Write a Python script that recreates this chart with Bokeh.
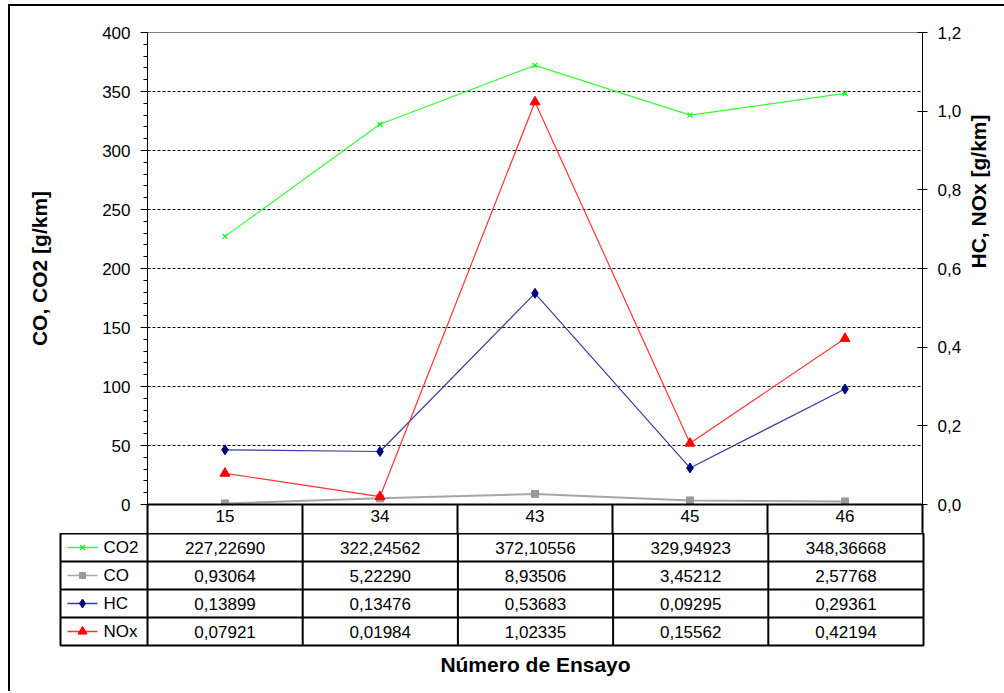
import math
from bokeh.plotting import figure
from bokeh.models import (Range1d, LinearAxis, FixedTicker, CustomJSTickFormatter,
                          ColumnDataSource, Grid)
from bokeh.layouts import column
from bokeh.embed import file_html
from bokeh.resources import INLINE
from bokeh.core.properties import value

# ---------------- data ----------------
categories = ["15", "34", "43", "45", "46"]
co2 = [227.22690, 322.24562, 372.10556, 329.94923, 348.36668]
co = [0.93064, 5.22290, 8.93506, 3.45212, 2.57768]
hc = [0.13899, 0.13476, 0.53683, 0.09295, 0.29361]
nox = [0.07921, 0.01984, 1.02335, 0.15562, 0.42194]
series_names = ["CO2", "CO", "HC", "NOx"]
left_ticks = [0, 50, 100, 150, 200, 250, 300, 350, 400]
left_minor_ticks = list(range(0, 401, 10))
grid_ticks = [50, 100, 150, 200, 250, 300, 350]
right_ticks = [0, 0.2, 0.4, 0.6, 0.8, 1.0, 1.2]
left_title = "CO, CO2 [g/km]"
right_title = "HC, NOx [g/km]"
x_title = "Número de Ensayo"

FONT = "Liberation Sans"
n = len(categories)
xs = [i + 0.5 for i in range(n)]

colors = {"CO2": "#00FF00", "CO": "#999999", "HC": "#000080", "NOx": "#FF0000"}
line_colors = {"CO2": "#33FF33", "CO": "#A6A6A6", "HC": "#3B3B9E", "NOx": "#FF3333"}
markers = {"CO2": "x", "CO": "square", "HC": "diamond", "NOx": "triangle"}
msize = {"CO2": 7, "CO": 7, "HC": 10, "NOx": 10}
lwidth = {"CO2": 1.2, "CO": 2, "HC": 1.2, "NOx": 1.2}
values = {"CO2": co2, "CO": co, "HC": hc, "NOx": nox}
axis_of = {"CO2": "default", "CO": "default", "HC": "right", "NOx": "right"}

# ---------------- main chart ----------------
pA = figure(width=994, height=527, x_range=Range1d(0, n), y_range=Range1d(0, 400),
            output_backend="svg", toolbar_location=None,
            x_axis_location=None, y_axis_location=None,
            min_border_left=137, min_border_right=81, min_border_top=26, min_border_bottom=29,
            outline_line_color="#808080", outline_line_width=1,
            background_fill_color="white", border_fill_color="white")
pA.frame_align = False
pA.extra_y_ranges = {"right": Range1d(0, 1.2)}
for g in pA.grid:
    g.visible = False

pA.add_layout(Grid(dimension=1, ticker=FixedTicker(ticks=grid_ticks),
                   grid_line_color="black", grid_line_dash="3 2", grid_line_width=1), "center")

ax_l = LinearAxis(ticker=FixedTicker(ticks=left_ticks, minor_ticks=left_minor_ticks),
                  formatter=CustomJSTickFormatter(code="return tick.toFixed(0);"),
                  axis_label=left_title)
ax_r = LinearAxis(y_range_name="right",
                  ticker=FixedTicker(ticks=right_ticks, minor_ticks=[]),
                  formatter=CustomJSTickFormatter(code="return tick.toFixed(1).replace('.', ',');"),
                  axis_label=right_title)
for ax in (ax_l, ax_r):
    ax.axis_line_color = "black"
    ax.axis_line_width = 1
    ax.major_tick_line_color = "black"
    ax.minor_tick_line_color = "black"
    ax.major_label_text_font = FONT
    ax.major_label_text_font_size = "17px"
    ax.major_label_text_color = "black"
    ax.major_label_standoff = 10
    ax.axis_label_text_font = FONT
    ax.axis_label_text_font_size = "21px"
    ax.axis_label_text_font_style = "bold"
    ax.axis_label_text_color = "black"
ax_l.major_tick_out = 7
ax_l.major_tick_in = 0
ax_l.minor_tick_out = 4
ax_l.minor_tick_in = 0
ax_l.axis_label_standoff = 48
ax_r.major_tick_out = 5
ax_r.major_tick_in = 5
ax_r.minor_tick_out = 0
ax_r.minor_tick_in = 0
ax_r.axis_label_standoff = 14
ax_r.axis_label_orientation = math.pi / 2
pA.add_layout(ax_l, "left")
pA.add_layout(ax_r, "right")

ax_b = LinearAxis(ticker=FixedTicker(ticks=xs, minor_ticks=list(range(n + 1))),
                  formatter=CustomJSTickFormatter(args=dict(cats=categories),
                                                  code="return cats[Math.floor(tick)];"),
                  axis_line_color="black", axis_line_width=2,
                  major_tick_out=0, major_tick_in=0,
                  minor_tick_out=29, minor_tick_in=0,
                  minor_tick_line_color="black", minor_tick_line_width=2,
                  major_label_text_font=FONT, major_label_text_font_size="17px",
                  major_label_text_color="black", major_label_standoff=-24)
pA.add_layout(ax_b, "below")

for name in series_names:
    yr = axis_of[name]
    pA.line(xs, values[name], line_color=line_colors[name], line_width=lwidth[name],
            y_range_name=yr)
    if markers[name] == "x":
        pA.scatter(xs, values[name], marker="x", size=msize[name], line_color=colors[name],
                   line_width=1.2, y_range_name=yr)
    else:
        pA.scatter(xs, values[name], marker=markers[name], size=msize[name],
                   fill_color=colors[name], line_color=colors[name], y_range_name=yr)

# ---------------- data table ----------------
leg_w = 87 / 155.2  # legend column width in category units
nrows = len(series_names)
pB = figure(width=994, height=158, x_range=Range1d(-leg_w, n), y_range=Range1d(0, nrows),
            output_backend="svg", toolbar_location=None,
            x_axis_location=None, y_axis_location=None,
            min_border_left=50, min_border_right=81, min_border_top=0, min_border_bottom=46,
            outline_line_color="black", outline_line_width=2,
            background_fill_color="white", border_fill_color="white")
pB.frame_align = False
for g in pB.grid:
    g.visible = False

# cell borders
vx = list(range(n))
pB.segment(x0=vx, y0=[0] * len(vx), x1=vx, y1=[nrows] * len(vx),
           line_color="black", line_width=2)
hy = list(range(1, nrows))
pB.segment(x0=[-leg_w] * len(hy), y0=hy, x1=[n] * len(hy), y1=hy,
           line_color="black", line_width=2)

tx, ty, tt = [], [], []
for i, name in enumerate(series_names):
    yc = nrows - i - 0.5
    for j, v in enumerate(values[name]):
        tx.append(xs[j])
        ty.append(yc)
        tt.append(f"{v:.5f}".replace(".", ","))
pB.text(x="x", y="y", text="t", source=ColumnDataSource(dict(x=tx, y=ty, t=tt)),
        text_font=value(FONT), text_font_size="17px", text_color="black",
        text_align="center", text_baseline="middle")

# legend keys inside the first column
lx0 = -leg_w + 7 / 155.2
lx1 = -leg_w + 37 / 155.2
lxm = (lx0 + lx1) / 2
ltx = -leg_w + 43 / 155.2
for i, name in enumerate(series_names):
    yc = nrows - i - 0.5
    pB.segment(x0=[lx0], y0=[yc], x1=[lx1], y1=[yc], line_color=line_colors[name],
               line_width=1.5)
    if markers[name] == "x":
        pB.scatter([lxm], [yc], marker="x", size=msize[name], line_color=colors[name],
                   line_width=1.2)
    else:
        pB.scatter([lxm], [yc], marker=markers[name], size=msize[name] - 1,
                   fill_color=colors[name], line_color=colors[name])
    pB.text(x=[ltx], y=[yc], text=[name], text_font=value(FONT), text_font_size="17px",
            text_color="black", text_align="left", text_baseline="middle")

ax_t = LinearAxis(ticker=FixedTicker(ticks=[n / 2], minor_ticks=[]),
                  formatter=CustomJSTickFormatter(args=dict(t=x_title), code="return t;"),
                  axis_line_color=None, major_tick_out=0, major_tick_in=0,
                  minor_tick_out=0, minor_tick_in=0,
                  major_label_text_font=FONT, major_label_text_font_size="21px",
                  major_label_text_font_style="bold", major_label_text_color="black",
                  major_label_standoff=7)
pB.add_layout(ax_t, "below")

layout = column(pA, pB, spacing=0, margin=(4, 0, 0, 8),
                styles={"border-left": "2px solid black", "border-top": "2px solid black"})

open("out.html", "w").write(file_html(layout, INLINE))
